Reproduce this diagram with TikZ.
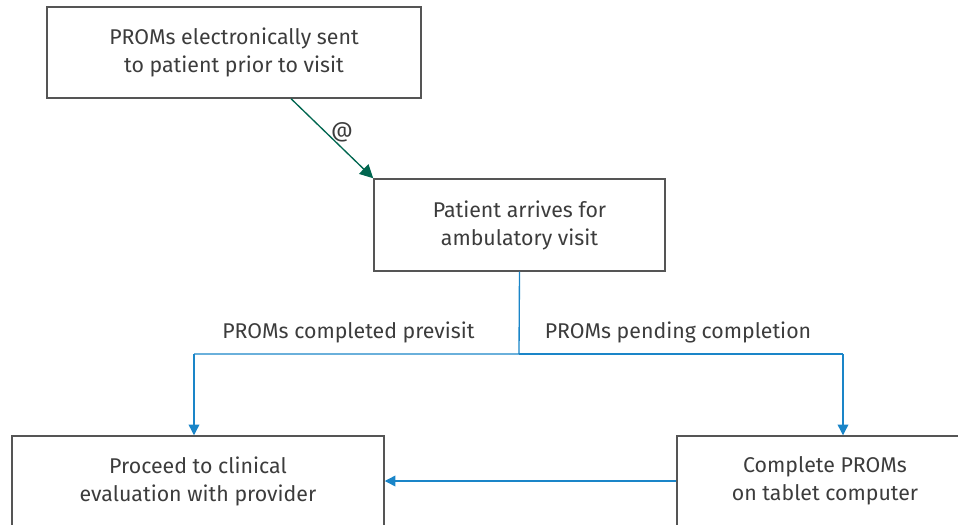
\documentclass[tikz,border=0pt]{standalone}
\usepackage{fontspec}
\setmainfont{Fira Sans}
\usetikzlibrary{arrows.meta,calc}
\definecolor{txt}{HTML}{3C3C3C}
\definecolor{edge}{HTML}{555555}
\definecolor{flow}{HTML}{1A85C8}
\definecolor{mail}{HTML}{00664F}
\tikzset{
  box/.style={draw=edge,line width=1.1pt,text=txt,align=center,inner sep=0pt,font=\fontsize{16}{21}\selectfont},
  lbl/.style={text=txt,inner sep=0pt,font=\fontsize{16}{21}\selectfont},
  flowline/.style={draw=flow,line width=1pt},
  flowarrow/.style={flowline,-{Triangle[width=8pt,length=8pt]}},
}
\begin{document}
\begin{tikzpicture}[x=0.75pt,y=-0.75pt]
\useasboundingbox (0,0) rectangle (958,525);
\clip (0,0) rectangle (958,525);
\node[box,minimum width=374*0.75pt,minimum height=91*0.75pt] (b1) at (234,52.5) {PROMs electronically sent\\to patient prior to visit};
\node[box,minimum width=291*0.75pt,minimum height=92*0.75pt] (b2) at (519.5,225) {Patient arrives for\\ambulatory visit};
\node[box,minimum width=372*0.75pt,minimum height=90*0.75pt] (b3) at (198,481) {Proceed to clinical\\evaluation with provider};
\node[box,minimum width=296*0.75pt,minimum height=90*0.75pt] (b4) at (825,481) {Complete PROMs\\on tablet computer};
\coordinate (s1) at ($(b1.south west)!0.652!(b1.south east)$);
\draw[draw=mail,line width=1pt,-{Triangle[width=10pt,length=10pt]}] (s1) -- (b2.north west);
\node[lbl] (at) at (342,132) {@};
\coordinate (split) at (519,354);
\coordinate (lc) at (194,354);
\coordinate (rc) at (843,354);
\draw[flowline] (b2.south) -- (split) -- (lc);
\draw[flowline] (split) -- (rc);
\draw[flowarrow] (lc) -- (lc |- b3.north);
\draw[flowarrow] (rc) -- (rc |- b4.north);
\draw[flowarrow] (b4.west) -- (b3.east);
\node[lbl] (l1) at (348.5,332) {PROMs completed previsit};
\node[lbl] (l2) at (678,332) {PROMs pending completion};
\end{tikzpicture}
\end{document}
